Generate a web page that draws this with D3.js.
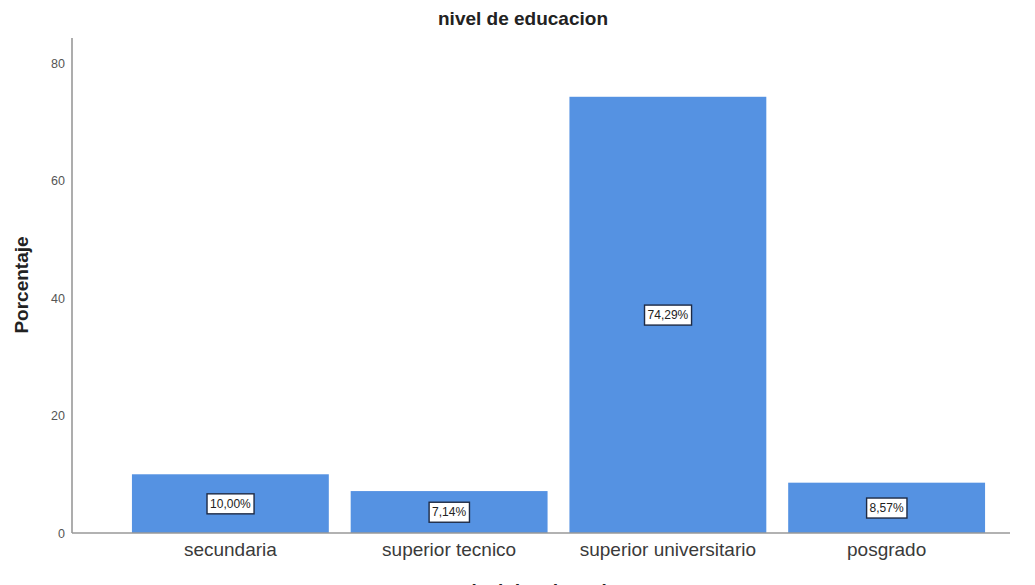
<!DOCTYPE html>
<html>
<head>
<meta charset="utf-8">
<script src="https://cdn.jsdelivr.net/npm/d3@7"></script>
<style>
  html, body { margin: 0; padding: 0; background: #fff; }
  svg { display: block; font-family: "Liberation Sans", Arial, sans-serif; }
</style>
</head>
<body>
<svg id="chart" width="1035" height="585"></svg>
<script>
const categories = ["secundaria", "superior tecnico", "superior universitario", "posgrado"];
const percentages = [10.00, 7.14, 74.29, 8.57];
const valueLabels = ["10,00%", "7,14%", "74,29%", "8,57%"];
const yTicks = [0, 20, 40, 60, 80];
const chartTitle = "nivel de educacion";
const yTitle = "Porcentaje";
const xTitle = "nivel de educacion";

const svg = d3.select("#chart");
const axisX0 = 72, axisX1 = 1010, baseY = 533, topY = 38;

const x = d3.scaleBand().domain(categories).range([121, 996]).paddingInner(0.1).paddingOuter(0.05);
const y = d3.scaleLinear().domain([0, 84.3]).range([baseY, topY]);

// bars
svg.append("g").selectAll("rect").data(categories).join("rect")
  .attr("x", d => x(d))
  .attr("y", (d, i) => y(percentages[i]))
  .attr("width", x.bandwidth())
  .attr("height", (d, i) => y(0) - y(percentages[i]))
  .attr("fill", "#5592e2");

// y axis
const yAxis = d3.axisLeft(y).tickValues(yTicks).tickSize(0).tickPadding(7);
const gy = svg.append("g").attr("transform", `translate(${axisX0},0)`).call(yAxis);
gy.select(".domain").remove();
gy.selectAll("text").attr("font-size", 12.5).attr("fill", "#555").attr("font-family", "Liberation Sans, Arial, sans-serif");
svg.append("line").attr("x1", axisX0).attr("x2", axisX0).attr("y1", topY).attr("y2", baseY)
  .attr("stroke", "#999").attr("stroke-width", 1.6);

// x axis
const xAxis = d3.axisBottom(x).tickSize(0).tickPadding(10);
const gx = svg.append("g").attr("transform", `translate(0,${baseY})`).call(xAxis);
gx.select(".domain").remove();
gx.selectAll("text").attr("font-size", 19).attr("fill", "#3a3a3a").attr("font-family", "Liberation Sans, Arial, sans-serif");
svg.append("line").attr("x1", axisX0).attr("x2", axisX1).attr("y1", baseY).attr("y2", baseY)
  .attr("stroke", "#999").attr("stroke-width", 1.6);

// value labels
const lab = svg.append("g").selectAll("g").data(categories).join("g")
  .attr("transform", (d, i) => `translate(${x(d) + x.bandwidth() / 2},${(y(0) + y(percentages[i])) / 2})`);
lab.append("text")
  .attr("text-anchor", "middle").attr("dy", "0.35em")
  .attr("font-size", 12).attr("fill", "#222")
  .text((d, i) => valueLabels[i]);
lab.each(function() {
  const g = d3.select(this);
  const bb = g.select("text").node().getBBox();
  g.insert("rect", "text")
    .attr("x", bb.x - 3).attr("y", bb.y - 3)
    .attr("width", bb.width + 6).attr("height", bb.height + 6)
    .attr("fill", "#fff").attr("stroke", "#1e2a44").attr("stroke-width", 1.4);
});

// titles
svg.append("text").attr("x", 523).attr("y", 25).attr("text-anchor", "middle")
  .attr("font-size", 19).attr("font-weight", "bold").attr("fill", "#222").text(chartTitle);
svg.append("text").attr("transform", "translate(28,285) rotate(-90)").attr("text-anchor", "middle")
  .attr("font-size", 19).attr("font-weight", "bold").attr("fill", "#222").text(yTitle);
svg.append("text").attr("x", 545).attr("y", 597).attr("text-anchor", "middle")
  .attr("font-size", 19).attr("font-weight", "bold").attr("fill", "#222").text(xTitle);
</script>
</body>
</html>
